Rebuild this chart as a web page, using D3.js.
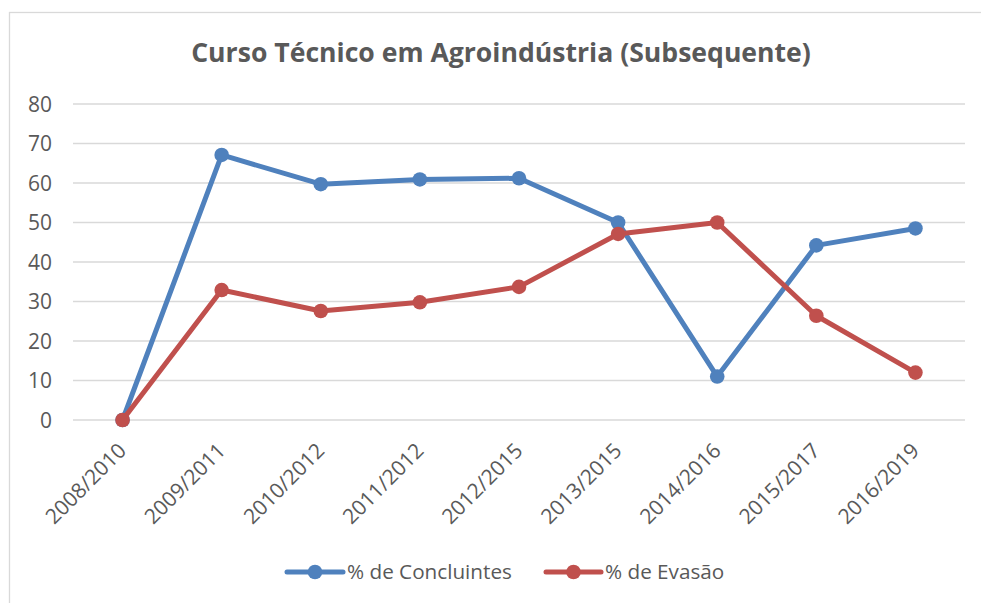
<!DOCTYPE html>
<html>
<head>
<meta charset="utf-8">
<script src="https://cdn.jsdelivr.net/npm/d3@7"></script>
<style>
  html, body { margin: 0; padding: 0; background: #fff; }
  svg { display: block; }
  text { font-family: "Open Sans", "Liberation Sans", sans-serif; fill: #595959; }
</style>
</head>
<body>
<svg id="chart" width="981" height="603"></svg>
<script>
const title = "Curso Técnico em Agroindústria (Subsequente)";
const categories = ["2008/2010","2009/2011","2010/2012","2011/2012","2012/2015","2013/2015","2014/2016","2015/2017","2016/2019"];
const concluintes = [0, 67.1, 59.7, 60.9, 61.2, 50.0, 11.0, 44.2, 48.5];
const evasao = [0, 32.9, 27.6, 29.8, 33.7, 47.1, 50.0, 26.4, 12.0];
const yTicks = [0, 10, 20, 30, 40, 50, 60, 70, 80];
const seriesNames = ["% de Concluintes", "% de Evasão"];
const seriesColors = ["#4f81bd", "#c0504d"];

const svg = d3.select("#chart");
const W = 981, H = 603;
const plot = { left: 73, right: 965, top: 104, bottom: 420 };

// chart area border
svg.append("rect")
  .attr("x", 9.5).attr("y", 12.5)
  .attr("width", W + 20).attr("height", H + 20)
  .attr("fill", "none").attr("stroke", "#d9d9d9").attr("stroke-width", 1.3);

const x = d3.scaleBand().domain(categories).range([plot.left, plot.right]);
const y = d3.scaleLinear().domain([0, 80]).range([plot.bottom, plot.top]);
const cx = d => x(d) + x.bandwidth() / 2;

// gridlines
svg.append("g").selectAll("line").data(yTicks).join("line")
  .attr("x1", plot.left).attr("x2", plot.right)
  .attr("y1", d => y(d)).attr("y2", d => y(d))
  .attr("stroke", "#d9d9d9").attr("stroke-width", 1.3);

// y axis labels
const yAxis = d3.axisLeft(y).tickValues(yTicks).tickSize(0).tickPadding(0);
const yg = svg.append("g").attr("transform", `translate(${52},0)`).call(yAxis);
yg.select(".domain").remove();
yg.selectAll("text").attr("font-size", 21).attr("fill", "#595959")
  .style("font-family", '"Open Sans", sans-serif').attr("dy", "0.35em").attr("x", 0);

// x axis labels
const xg = svg.append("g");
xg.selectAll("text").data(categories).join("text")
  .attr("transform", d => `translate(${cx(d) + 5},${452}) rotate(-45)`)
  .attr("text-anchor", "end")
  .attr("font-size", 21)
  .text(d => d);

// title
svg.append("text")
  .attr("x", 501).attr("y", 62)
  .attr("text-anchor", "middle")
  .attr("font-size", 26.6).attr("font-weight", "bold")
  .text(title);

// series
const seriesData = [concluintes, evasao];
const line = d3.line().x((d, i) => cx(categories[i])).y(d => y(d));
seriesData.forEach((vals, si) => {
  const g = svg.append("g");
  g.append("path").datum(vals)
    .attr("d", line)
    .attr("fill", "none")
    .attr("stroke", seriesColors[si])
    .attr("stroke-width", 5)
    .attr("stroke-linejoin", "round")
    .attr("stroke-linecap", "round");
  g.selectAll("circle").data(vals).join("circle")
    .attr("cx", (d, i) => cx(categories[i]))
    .attr("cy", d => y(d))
    .attr("r", 7.3)
    .attr("fill", seriesColors[si]);
});

// legend
const legendItems = [
  { x1: 287, x2: 343, tx: 347 },
  { x1: 546, x2: 601, tx: 605 }
];
const ly = 572;
legendItems.forEach((it, i) => {
  const g = svg.append("g");
  g.append("line").attr("x1", it.x1).attr("x2", it.x2).attr("y1", ly).attr("y2", ly)
    .attr("stroke", seriesColors[i]).attr("stroke-width", 5).attr("stroke-linecap", "round");
  g.append("circle").attr("cx", (it.x1 + it.x2) / 2).attr("cy", ly).attr("r", 7.3).attr("fill", seriesColors[i]);
  g.append("text").attr("x", it.tx).attr("y", ly).attr("dy", "0.35em")
    .attr("font-size", 20.7).text(seriesNames[i]);
});
</script>
</body>
</html>
